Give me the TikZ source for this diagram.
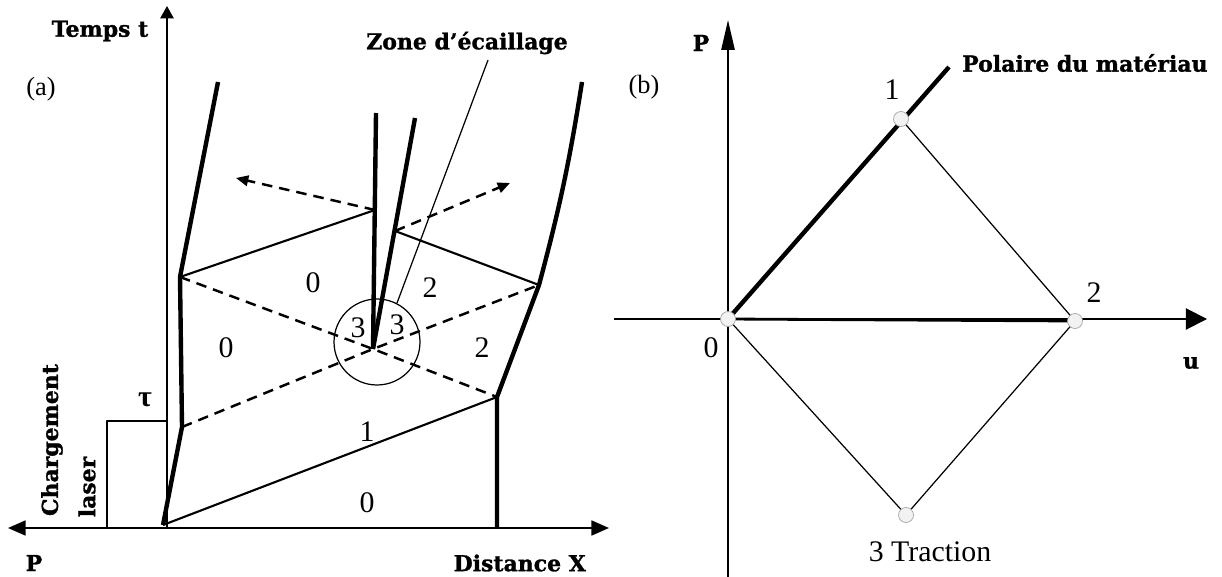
\documentclass[tikz,border=0pt]{standalone}
\usepackage{fontspec}
\setmainfont{Liberation Serif}
\newfontfamily\headfont{DejaVu Serif}[BoldFeatures={FakeBold=1.2}]
\usepackage{tikz}
\usetikzlibrary{arrows.meta,calc}

\begin{document}
\begin{tikzpicture}[x=0.02cm,y=-0.02cm,line join=round,
  axis/.style={line width=1.1pt},
  shock/.style={line width=2.5pt},
  wave/.style={line width=1.2pt},
  lead/.style={line width=0.7pt},
  fan/.style={line width=1.4pt,dash pattern=on 6pt off 4pt},
  head/.style={font=\headfont\bfseries\fontsize{12.5}{14}\selectfont},
  num/.style={font=\fontsize{17}{19}\selectfont},
  tag/.style={font=\fontsize{15}{17}\selectfont},
  state/.style={circle,draw=gray!70,fill=gray!10,line width=0.4pt,minimum size=0.3cm,inner sep=0pt}]
\useasboundingbox (0,0) rectangle (1222,577);
% (a) diagramme de marche
\coordinate (Xl) at (8,528);
\coordinate (Xr) at (609,528);
\coordinate (Tb) at (167,528);
\coordinate (Tt) at (167,6);
\draw[axis,{Triangle[length=10pt,width=8.5pt]}-{Triangle[length=10pt,width=8.5pt]}] (Xl) -- (Xr);
\draw[axis,-{Triangle[length=7pt,width=7.5pt]}] (Tb) -- (Tt);
\coordinate (L1) at (107,528);
\coordinate (L2) at (107,421);
\coordinate (L3) at (167,421);
\draw[lead] (L1) -- (L2) -- (L3);
\coordinate (O) at (163,525);
\coordinate (A) at (182,427);
\coordinate (B) at (180,277);
\coordinate (Bt) at (218,82);
\coordinate (C) at (497,397);
\coordinate (Cb) at (497,528);
\coordinate (D) at (539,285);
\coordinate (Dt) at (582,82);
\coordinate (E) at (373,349);
\coordinate (Et) at (376,113);
\coordinate (F) at (415,118);
\coordinate (G) at (375,210);
\coordinate (H) at (395,231);
\coordinate (Ga) at (236,178);
\coordinate (Ha) at (510,183);
\draw[wave] (O) -- (C);
\draw[wave] (B) -- (G);
\draw[wave] (H) -- (D);
\draw[fan] (A) -- (E) -- (D);
\draw[fan] (B) -- (E) -- (C);
\draw[fan,-{Triangle[length=7pt,width=6pt]}] (G) -- (Ga);
\draw[fan,-{Triangle[length=7pt,width=6pt]}] (H) -- (Ha);
\draw[shock] (O) -- (A) -- (B) -- (Bt);
\draw[shock] (Cb) -- (C) -- (D) to[bend right=3] (Dt);
\draw[shock] (E) -- (Et);
\draw[shock] (E) -- (F);
\coordinate (S) at (377,342);
\draw[lead] (S) circle (0.86cm);
\coordinate (Z1) at (488,60);
\coordinate (Z2) at (397,303);
\draw[lead] (Z1) -- (Z2);
\node[head] (temps) at (100,31) {Temps t};
\node[tag] (pa) at (41,89) {(a)};
\node[head] (zone) at (467,43) {Zone d’écaillage};
\node[head] (pl) at (34,563) {P};
\node[head,anchor=east] (dist) at (592,563) {Distance X};
\node[head,rotate=90] (charg) at (52,440) {Chargement};
\node[head,rotate=90] (laser) at (87,487) {laser};
\node[num] (tau) at (145,400) {\bfseries τ};
\node[num] (n1) at (367,432) {1};
\node[num] (n0a) at (367,503) {0};
\node[num] (n0b) at (226,348) {0};
\node[num] (n0c) at (313,283) {0};
\node[num] (n2a) at (430,288) {2};
\node[num] (n2b) at (482,348) {2};
\node[num] (n3a) at (358,328) {3};
\node[num] (n3b) at (397,325) {3};
% (b) polaire
\coordinate (Pb) at (728,577);
\coordinate (Pt) at (728,20);
\coordinate (Ul) at (614,319);
\coordinate (Ur) at (1207,319);
\coordinate (Q0) at (728,319);
\coordinate (Q1) at (901,119);
\coordinate (Q2) at (1075,321);
\coordinate (Q3) at (906,515);
\coordinate (Q1e) at (949,67);
\draw[axis,-{Triangle[length=17pt,width=7.5pt]}] (Pb) -- (Pt);
\draw[axis,-{Triangle[length=12pt,width=12pt]}] (Ul) -- (Ur);
\draw[line width=1.6pt] (Q0) -- (Q2);
\draw[lead] (Q1) -- (Q2) -- (Q3) -- (Q0);
\draw[shock] (Q0) -- (Q1e);
\foreach \q in {Q0,Q1,Q2,Q3}{
  \node[state] (s\q) at (\q) {};
}
\node[tag] (pb) at (644,87) {(b)};
\node[head] (pr) at (701,43) {P};
\node[head] (u) at (1191,363) {u};
\node[head,anchor=west] (polaire) at (956,63) {Polaire du matériau};
\node[num] (m0) at (711,348) {0};
\node[num] (m1) at (892,90) {1};
\node[num] (m2) at (1094,293) {2};
\node[num] (m3) at (930,552) {3 Traction};
\end{tikzpicture}
\end{document}
